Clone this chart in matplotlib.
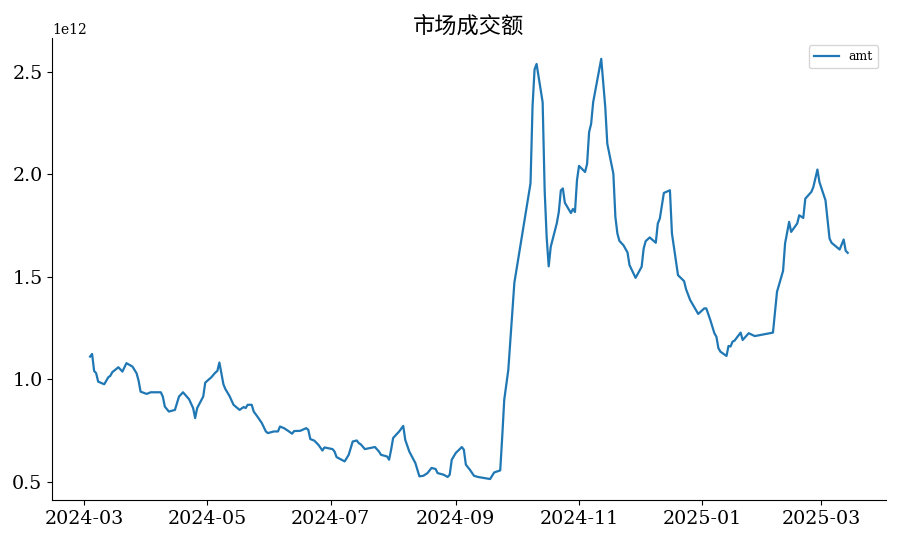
import matplotlib
matplotlib.use("Agg")
import matplotlib.pyplot as plt
import matplotlib.dates as mdates
import pandas as pd

dates = [
    "2024-03-04", "2024-03-05", "2024-03-06", "2024-03-07", "2024-03-08", "2024-03-11",
    "2024-03-13", "2024-03-14", "2024-03-15", "2024-03-18", "2024-03-20", "2024-03-22",
    "2024-03-25", "2024-03-27", "2024-03-28", "2024-03-29", "2024-04-01", "2024-04-03",
    "2024-04-08", "2024-04-09", "2024-04-10", "2024-04-12", "2024-04-15", "2024-04-16",
    "2024-04-17", "2024-04-19", "2024-04-22", "2024-04-24", "2024-04-25", "2024-04-26",
    "2024-04-29", "2024-04-30", "2024-05-03", "2024-05-05", "2024-05-06", "2024-05-07",
    "2024-05-08", "2024-05-09", "2024-05-10", "2024-05-12", "2024-05-14", "2024-05-17",
    "2024-05-19", "2024-05-20", "2024-05-21", "2024-05-23", "2024-05-24", "2024-05-26",
    "2024-05-28", "2024-05-30", "2024-05-31", "2024-06-03", "2024-06-05", "2024-06-06",
    "2024-06-08", "2024-06-10", "2024-06-12", "2024-06-13", "2024-06-16", "2024-06-19",
    "2024-06-20", "2024-06-21", "2024-06-23", "2024-06-25", "2024-06-27", "2024-06-28",
    "2024-07-02", "2024-07-03", "2024-07-04", "2024-07-08", "2024-07-10", "2024-07-12",
    "2024-07-14", "2024-07-15", "2024-07-16", "2024-07-18", "2024-07-20", "2024-07-23",
    "2024-07-25", "2024-07-26", "2024-07-29", "2024-07-30", "2024-07-31", "2024-08-01",
    "2024-08-04", "2024-08-06", "2024-08-07", "2024-08-09", "2024-08-12", "2024-08-13",
    "2024-08-14", "2024-08-16", "2024-08-18", "2024-08-20", "2024-08-22", "2024-08-23",
    "2024-08-26", "2024-08-28", "2024-08-29", "2024-08-30", "2024-09-01", "2024-09-04",
    "2024-09-05", "2024-09-06", "2024-09-08", "2024-09-10", "2024-09-12", "2024-09-18",
    "2024-09-20", "2024-09-23", "2024-09-24", "2024-09-25", "2024-09-27", "2024-09-30",
    "2024-10-08", "2024-10-09", "2024-10-10", "2024-10-11", "2024-10-14", "2024-10-15",
    "2024-10-16", "2024-10-17", "2024-10-18", "2024-10-21", "2024-10-22", "2024-10-23",
    "2024-10-24", "2024-10-25", "2024-10-28", "2024-10-29", "2024-10-30", "2024-10-31",
    "2024-11-01", "2024-11-04", "2024-11-05", "2024-11-06", "2024-11-07", "2024-11-08",
    "2024-11-12", "2024-11-14", "2024-11-15", "2024-11-18", "2024-11-19", "2024-11-20",
    "2024-11-21", "2024-11-23", "2024-11-25", "2024-11-26", "2024-11-29", "2024-12-02",
    "2024-12-03", "2024-12-04", "2024-12-06", "2024-12-09", "2024-12-10", "2024-12-11",
    "2024-12-13", "2024-12-16", "2024-12-17", "2024-12-20", "2024-12-23", "2024-12-24",
    "2024-12-26", "2024-12-30", "2025-01-02", "2025-01-03", "2025-01-05", "2025-01-07",
    "2025-01-08", "2025-01-09", "2025-01-10", "2025-01-13", "2025-01-14", "2025-01-15",
    "2025-01-16", "2025-01-17", "2025-01-20", "2025-01-21", "2025-01-24", "2025-01-27",
    "2025-02-05", "2025-02-07", "2025-02-10", "2025-02-11", "2025-02-13", "2025-02-14",
    "2025-02-17", "2025-02-18", "2025-02-20", "2025-02-21", "2025-02-24", "2025-02-25",
    "2025-02-27", "2025-02-28", "2025-03-03", "2025-03-05", "2025-03-06", "2025-03-10",
    "2025-03-12", "2025-03-13", "2025-03-14",
]

amt_trillion = [
    1.110, 1.123, 1.040, 1.029, 0.988, 0.975,
    1.009, 1.016, 1.034, 1.058, 1.037, 1.078,
    1.061, 1.029, 0.993, 0.939, 0.928, 0.936,
    0.936, 0.915, 0.866, 0.842, 0.850, 0.883,
    0.915, 0.936, 0.902, 0.859, 0.810, 0.859,
    0.915, 0.983, 1.009, 1.032, 1.040, 1.081,
    1.029, 0.975, 0.951, 0.918, 0.875, 0.850,
    0.864, 0.859, 0.875, 0.875, 0.842, 0.815,
    0.786, 0.745, 0.737, 0.745, 0.745, 0.769,
    0.761, 0.748, 0.734, 0.747, 0.748, 0.761,
    0.753, 0.708, 0.700, 0.680, 0.652, 0.667,
    0.659, 0.647, 0.620, 0.599, 0.631, 0.696,
    0.701, 0.688, 0.682, 0.659, 0.663, 0.669,
    0.647, 0.631, 0.623, 0.607, 0.656, 0.713,
    0.745, 0.772, 0.704, 0.647, 0.591, 0.558,
    0.526, 0.529, 0.542, 0.567, 0.562, 0.542,
    0.534, 0.523, 0.534, 0.607, 0.640, 0.669,
    0.656, 0.583, 0.558, 0.529, 0.523, 0.513,
    0.545, 0.555, 0.720, 0.900, 1.045, 1.470,
    1.955, 2.330, 2.510, 2.537, 2.350, 1.920,
    1.690, 1.550, 1.645, 1.760, 1.815, 1.920,
    1.930, 1.860, 1.810, 1.830, 1.815, 1.970,
    2.040, 2.010, 2.050, 2.205, 2.245, 2.350,
    2.562, 2.326, 2.148, 2.002, 1.791, 1.710,
    1.674, 1.653, 1.618, 1.556, 1.494, 1.548,
    1.637, 1.673, 1.691, 1.665, 1.759, 1.783,
    1.908, 1.921, 1.710, 1.507, 1.478, 1.438,
    1.386, 1.318, 1.345, 1.345, 1.288, 1.224,
    1.207, 1.151, 1.134, 1.113, 1.162, 1.159,
    1.183, 1.188, 1.227, 1.191, 1.224, 1.210,
    1.227, 1.426, 1.528, 1.662, 1.767, 1.718,
    1.759, 1.799, 1.786, 1.880, 1.913, 1.937,
    2.022, 1.961, 1.872, 1.686, 1.665, 1.632,
    1.681, 1.626, 1.616,
]

series_name = "amt"
title_text = "市场成交额"

plt.rcParams["font.family"] = ["DejaVu Serif", "Noto Sans CJK SC"]

x = pd.to_datetime(dates)
y = [v * 1e12 for v in amt_trillion]

fig = plt.figure(figsize=(9, 5.4), dpi=100)
ax = fig.add_axes([0.058, 0.074, 0.926, 0.856])
ax.plot(x, y, color="#1f77b4", linewidth=1.6, label=series_name)

ax.set_title(title_text, fontsize=16, family=["Noto Sans CJK SC", "DejaVu Serif"], pad=4)
ax.spines["top"].set_visible(False)
ax.spines["right"].set_visible(False)
ax.xaxis.set_major_locator(mdates.MonthLocator(bymonth=[1, 3, 5, 7, 9, 11]))
ax.xaxis.set_major_formatter(mdates.DateFormatter("%Y-%m"))
ax.tick_params(axis="both", labelsize=13.7)
ax.yaxis.get_offset_text().set_fontsize(10)
ax.legend(loc="upper right", fontsize=9, borderaxespad=0.6)

fig.savefig("out.png", dpi=100)
